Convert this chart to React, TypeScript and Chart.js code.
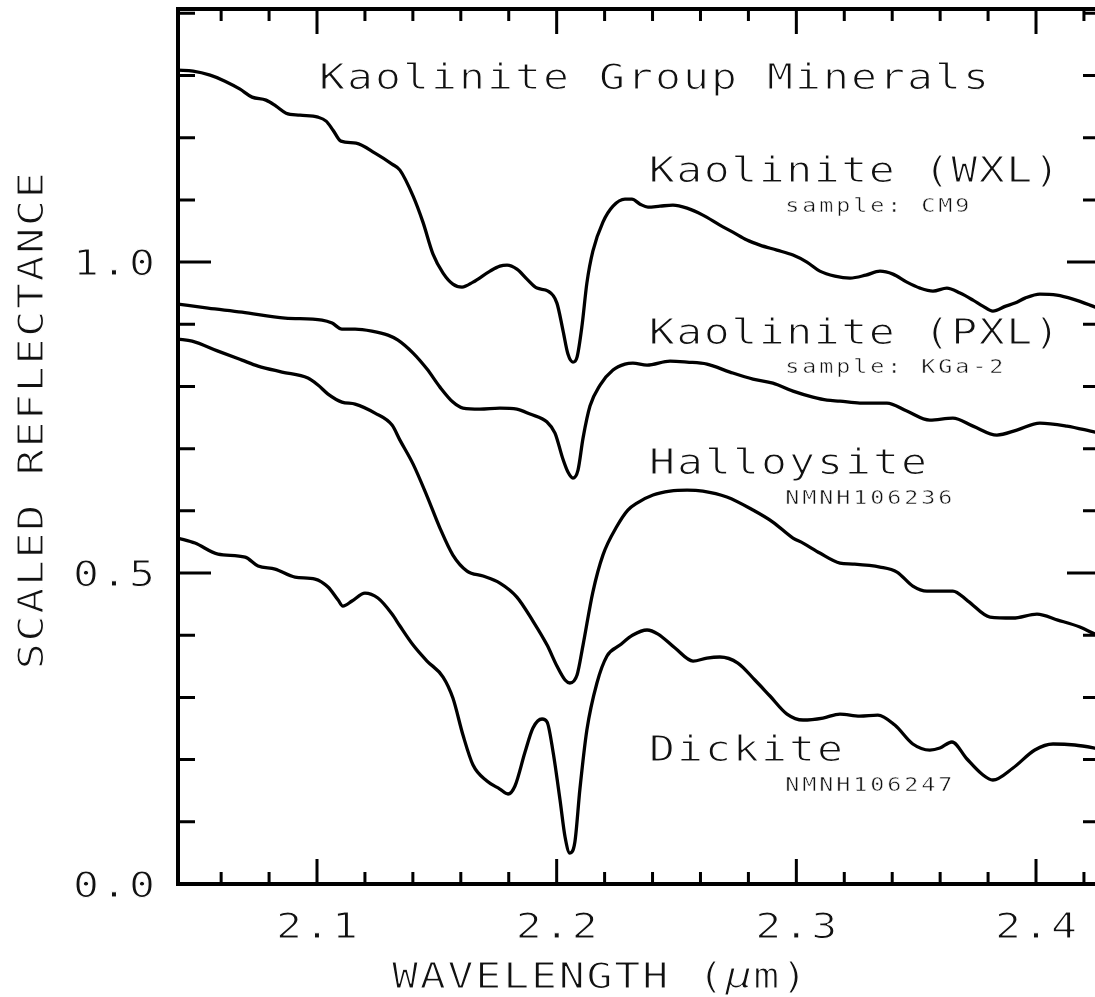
import React, { useEffect, useRef } from "react";
import { Chart, registerables } from "chart.js";

Chart.register(...registerables);

// ---- data (wavelength in µm, scaled reflectance) ----
const wxlWave = [2.042, 2.0483, 2.0554, 2.0616, 2.0679, 2.0729, 2.0787, 2.0829, 2.0871, 2.0929, 2.1004, 2.1038, 2.1067, 2.11, 2.1163, 2.1242, 2.1313, 2.1346, 2.1401, 2.1442, 2.1484, 2.1526, 2.1567, 2.1605, 2.1651, 2.1722, 2.1763, 2.1793, 2.1834, 2.1876, 2.1918, 2.1964, 2.2001, 2.2026, 2.2047, 2.2068, 2.2085, 2.2106, 2.2126, 2.2151, 2.2193, 2.2235, 2.2285, 2.2314, 2.2348, 2.2381, 2.2431, 2.2485, 2.2544, 2.261, 2.2681, 2.2735, 2.2794, 2.2848, 2.2919, 2.2986, 2.3044, 2.3098, 2.3161, 2.3224, 2.329, 2.3349, 2.3403, 2.3461, 2.3516, 2.357, 2.3628, 2.3683, 2.3737, 2.3778, 2.382, 2.3874, 2.3912, 2.3954, 2.4016, 2.4087, 2.4154, 2.4225, 2.4267];
const wxlRefl = [1.3087, 1.3071, 1.3006, 1.291, 1.2781, 1.2653, 1.2605, 1.2508, 1.2395, 1.2363, 1.2331, 1.2267, 1.2122, 1.1945, 1.1913, 1.1752, 1.1576, 1.1479, 1.1061, 1.0643, 1.0129, 0.9823, 0.9646, 0.9598, 0.9678, 0.9855, 0.9936, 0.9952, 0.9887, 0.9727, 0.9582, 0.9534, 0.9341, 0.8907, 0.8521, 0.8392, 0.8473, 0.8987, 0.9662, 1.0177, 1.0643, 1.09, 1.1013, 1.1013, 1.0932, 1.0884, 1.09, 1.0916, 1.0868, 1.0756, 1.0595, 1.0482, 1.0354, 1.0273, 1.0193, 1.0113, 1.0, 0.9855, 0.9775, 0.9743, 0.9791, 0.9855, 0.9807, 0.9678, 0.9582, 0.9534, 0.9582, 0.9502, 0.9389, 0.9293, 0.9212, 0.9293, 0.9341, 0.9421, 0.9486, 0.9469, 0.9405, 0.9309, 0.9244];

const pxlWave = [2.042, 2.0545, 2.0687, 2.0867, 2.1021, 2.1063, 2.1104, 2.1159, 2.1229, 2.1296, 2.1338, 2.1401, 2.1459, 2.1513, 2.1567, 2.1609, 2.168, 2.1763, 2.1834, 2.1889, 2.196, 2.1993, 2.2026, 2.2047, 2.2068, 2.2089, 2.211, 2.2139, 2.2181, 2.2235, 2.2285, 2.2318, 2.2377, 2.2473, 2.2544, 2.2627, 2.2723, 2.2819, 2.2902, 2.2986, 2.3069, 2.3128, 2.3182, 2.3265, 2.3378, 2.3461, 2.3557, 2.3653, 2.3737, 2.3837, 2.392, 2.4016, 2.4129, 2.4246, 2.4267];
const pxlRefl = [0.9325, 0.926, 0.9196, 0.91, 0.9068, 0.9019, 0.8923, 0.8923, 0.8891, 0.8826, 0.8746, 0.8537, 0.828, 0.799, 0.7749, 0.7653, 0.7637, 0.7653, 0.7637, 0.7556, 0.7428, 0.7251, 0.6833, 0.6624, 0.6527, 0.6656, 0.717, 0.7685, 0.8023, 0.8264, 0.836, 0.8376, 0.8344, 0.8408, 0.8392, 0.836, 0.8232, 0.8119, 0.8055, 0.7926, 0.783, 0.7781, 0.7765, 0.7733, 0.7733, 0.7605, 0.746, 0.7492, 0.7363, 0.7219, 0.7299, 0.7412, 0.7363, 0.7267, 0.7251];

const hallWave = [2.042, 2.0479, 2.0587, 2.0687, 2.0754, 2.0854, 2.0962, 2.1004, 2.1046, 2.1104, 2.1159, 2.1242, 2.1313, 2.1346, 2.1401, 2.1459, 2.1513, 2.1567, 2.1626, 2.1693, 2.1763, 2.1834, 2.1901, 2.196, 2.2001, 2.2035, 2.2055, 2.2085, 2.211, 2.2151, 2.2193, 2.2252, 2.2297, 2.2335, 2.2402, 2.2473, 2.2544, 2.261, 2.271, 2.2819, 2.2902, 2.2986, 2.3028, 2.3098, 2.3182, 2.3236, 2.3349, 2.342, 2.3486, 2.3545, 2.3653, 2.3716, 2.3808, 2.3904, 2.4004, 2.4091, 2.4183, 2.4246, 2.4267];
const hallRefl = [0.8762, 0.873, 0.8569, 0.8424, 0.8328, 0.8232, 0.8135, 0.8023, 0.7878, 0.7749, 0.7717, 0.7572, 0.7379, 0.7138, 0.6752, 0.6238, 0.5723, 0.5289, 0.5032, 0.4952, 0.4839, 0.4614, 0.4228, 0.3842, 0.3505, 0.328, 0.3232, 0.336, 0.3842, 0.4695, 0.5289, 0.5756, 0.6013, 0.6125, 0.6254, 0.6318, 0.6334, 0.6318, 0.6222, 0.6013, 0.582, 0.5563, 0.5482, 0.5322, 0.5161, 0.5145, 0.5096, 0.5016, 0.4791, 0.4711, 0.4711, 0.455, 0.4293, 0.4277, 0.4341, 0.4244, 0.4132, 0.4019, 0.3987];

const dickWave = [2.042, 2.0491, 2.0587, 2.07, 2.0754, 2.0825, 2.0908, 2.0992, 2.1046, 2.1088, 2.1108, 2.1146, 2.12, 2.1254, 2.1313, 2.1346, 2.1401, 2.1459, 2.1526, 2.1567, 2.1609, 2.1651, 2.1709, 2.1763, 2.1797, 2.1826, 2.1868, 2.1901, 2.1939, 2.196, 2.1985, 2.2014, 2.2035, 2.2055, 2.2076, 2.2097, 2.2126, 2.2168, 2.221, 2.2264, 2.2318, 2.2377, 2.2423, 2.2494, 2.2569, 2.2627, 2.2681, 2.2756, 2.2827, 2.289, 2.2961, 2.3028, 2.3111, 2.3182, 2.3265, 2.334, 2.3411, 2.3486, 2.3557, 2.3599, 2.3649, 2.3712, 2.3774, 2.382, 2.3904, 2.3995, 2.4071, 2.4162, 2.4246, 2.4267];
const dickRefl = [0.5563, 0.5482, 0.5305, 0.5257, 0.5113, 0.5064, 0.4936, 0.4904, 0.4775, 0.4566, 0.4469, 0.455, 0.4678, 0.4598, 0.4341, 0.4148, 0.3842, 0.3585, 0.3328, 0.299, 0.2395, 0.1913, 0.1656, 0.1527, 0.1447, 0.1576, 0.2122, 0.2508, 0.2653, 0.2605, 0.2122, 0.135, 0.0756, 0.0498, 0.0675, 0.1527, 0.2476, 0.3232, 0.3666, 0.3842, 0.4003, 0.4084, 0.4019, 0.3794, 0.3585, 0.3633, 0.365, 0.3553, 0.328, 0.3023, 0.2733, 0.2637, 0.2669, 0.2733, 0.2701, 0.2717, 0.2556, 0.2251, 0.2154, 0.2186, 0.2283, 0.201, 0.1768, 0.1672, 0.1865, 0.2154, 0.2251, 0.2235, 0.2186, 0.217];

// ---- axes / ticks / labels ----
const xMin = 2.042;
const xMax = 2.4267;
const yMin = 0;
const yMax = 1.407;
const xMinorTicks = [2.06, 2.08, 2.1, 2.12, 2.14, 2.16, 2.18, 2.2, 2.22, 2.24, 2.26, 2.28, 2.3, 2.32, 2.34, 2.36, 2.38, 2.4, 2.42];
const xMajorTicks = [2.1, 2.2, 2.3, 2.4];
const xTickLabels = ["2.1", "2.2", "2.3", "2.4"];
const yMinorTicks = [0.1, 0.2, 0.3, 0.4, 0.5, 0.6, 0.7, 0.8, 0.9, 1.0, 1.1, 1.2, 1.3, 1.4];
const yMajorTicks = [0.5, 1.0];
const yLabelValues = [0.0, 0.5, 1.0];
const yTickLabels = ["0.0", "0.5", "1.0"];

const chartTitle = "Kaolinite Group Minerals";
const xTitle = "WAVELENGTH (\u03bcm)";
const yTitle = "SCALED REFLECTANCE";
const curveNames = ["Kaolinite (WXL)", "Kaolinite (PXL)", "Halloysite", "Dickite"];
const curveNameY = [1.1291, 0.8682, 0.6587, 0.1977];
const sampleNames = ["sample: CM9", "sample: KGa-2", "NMNH106236", "NMNH106247"];
const sampleNameY = [1.0809, 0.8211, 0.6109, 0.15];

const FONT = '"DejaVu Sans Mono", monospace';
const BIG = 36;
const SMALL = 19.5;
const SX = 1.2;

function drawMono(ctx: CanvasRenderingContext2D, text: string, x0: number, base: number, size: number, adv: number, thin: number, italicIdx = -1) {
  ctx.textAlign = "center";
  ctx.textBaseline = "alphabetic";
  for (let i = 0; i < text.length; i++) {
    const ch = text[i];
    if (ch === " ") continue;
    ctx.font = (i === italicIdx ? "italic " : "") + size + "px " + FONT;
    ctx.save();
    ctx.translate(x0 + (i + 0.5) * adv, base);
    ctx.scale(SX, 1);
    ctx.fillStyle = "#111";
    ctx.fillText(ch, 0, 0);
    // slim the glyph strokes to match the thin plotter lettering
    ctx.strokeStyle = "#fff";
    ctx.lineWidth = thin;
    ctx.lineJoin = "round";
    ctx.strokeText(ch, 0, 0);
    ctx.restore();
  }
}

const framePlugin = {
  id: "frameAndText",
  afterDraw(chart: any) {
    const ctx: CanvasRenderingContext2D = chart.ctx;
    const xs = chart.scales.x;
    const ys = chart.scales.y;
    const a = chart.chartArea;
    ctx.save();
    ctx.strokeStyle = "#000";
    ctx.lineCap = "butt";
    // ticks
    ctx.lineWidth = 3;
    ctx.beginPath();
    xMinorTicks.forEach((v) => {
      const px = xs.getPixelForValue(v);
      const len = xMajorTicks.some((m) => Math.abs(m - v) < 1e-6) ? 25 : 12;
      ctx.moveTo(px, a.bottom);
      ctx.lineTo(px, a.bottom - len);
      ctx.moveTo(px, a.top);
      ctx.lineTo(px, a.top + len);
    });
    yMinorTicks.forEach((v) => {
      const py = ys.getPixelForValue(v);
      const len = yMajorTicks.some((m) => Math.abs(m - v) < 1e-6) ? 33 : 17;
      ctx.moveTo(a.left, py);
      ctx.lineTo(a.left + len, py);
      ctx.moveTo(a.right, py);
      ctx.lineTo(a.right - len, py);
    });
    ctx.stroke();
    // frame
    ctx.lineWidth = 4;
    ctx.strokeRect(a.left, a.top, a.right - a.left, a.bottom - a.top);

    // tick labels
    xMajorTicks.forEach((v, i) => {
      const cx = xs.getPixelForValue(v);
      drawMono(ctx, xTickLabels[i], cx - 1.5 * 28, a.bottom + 54, BIG, 28, 1.1);
    });
    yLabelValues.forEach((v, i) => {
      const py = ys.getPixelForValue(v);
      drawMono(ctx, yTickLabels[i], a.left - 106, py + 13, BIG, 28, 1.1);
    });
    // axis titles
    drawMono(ctx, xTitle, xs.getPixelForValue(2.1309), a.bottom + 104, BIG, 27.8, 1.1, 12);
    ctx.save();
    ctx.translate(43, ys.getPixelForValue(0.344));
    ctx.rotate(-Math.PI / 2);
    drawMono(ctx, yTitle, 0, 0, BIG, 27.7, 1.1);
    ctx.restore();
    // chart title
    drawMono(ctx, chartTitle, xs.getPixelForValue(2.1004), ys.getPixelForValue(1.2776), BIG, 28, 1.1);
    // curve labels
    curveNames.forEach((t, i) => {
      const adv = t.indexOf("(") >= 0 ? 27.5 : 28;
      drawMono(ctx, t, xs.getPixelForValue(2.2381), ys.getPixelForValue(curveNameY[i]), BIG, adv, 1.1);
    });
    sampleNames.forEach((t, i) => {
      drawMono(ctx, t, xs.getPixelForValue(2.2948), ys.getPixelForValue(sampleNameY[i]), SMALL, 17, 0.5);
    });
    ctx.restore();
  },
};

function toPoints(xs: number[], ys: number[]) {
  return xs.map((x, i) => ({ x, y: ys[i] }));
}

export default function App() {
  const ref = useRef<HTMLCanvasElement | null>(null);
  useEffect(() => {
    if (!ref.current) return;
    const series = [
      { label: "Kaolinite (WXL)", data: toPoints(wxlWave, wxlRefl) },
      { label: "Kaolinite (PXL)", data: toPoints(pxlWave, pxlRefl) },
      { label: "Halloysite", data: toPoints(hallWave, hallRefl) },
      { label: "Dickite", data: toPoints(dickWave, dickRefl) },
    ];
    const chart = new Chart(ref.current, {
      type: "line",
      data: {
        datasets: series.map((s) => ({
          label: s.label,
          data: s.data,
          borderColor: "#000",
          borderWidth: 3.3,
          pointRadius: 0,
          fill: false,
          cubicInterpolationMode: "monotone" as const,
        })),
      },
      options: {
        responsive: false,
        devicePixelRatio: 1,
        animation: false,
        layout: { padding: { top: 9, right: 10, left: 0, bottom: 0 } },
        plugins: { legend: { display: false }, tooltip: { enabled: false } },
        scales: {
          x: {
            type: "linear",
            min: xMin,
            max: xMax,
            grid: { display: false },
            border: { display: false },
            ticks: { display: false },
            afterFit: (s: any) => {
              s.height = 113;
            },
          },
          y: {
            type: "linear",
            min: yMin,
            max: yMax,
            grid: { display: false },
            border: { display: false },
            ticks: { display: false },
            afterFit: (s: any) => {
              s.width = 178;
            },
          },
        },
      },
      plugins: [framePlugin],
    } as any);
    return () => chart.destroy();
  }, []);
  return (
    <div style={{ position: "fixed", left: 0, top: 0, width: 1095, height: 997, overflow: "hidden", background: "#fff" }}>
      <canvas ref={ref} width={1110} height={997} style={{ display: "block", width: 1110, height: 997 }} />
    </div>
  );
}
